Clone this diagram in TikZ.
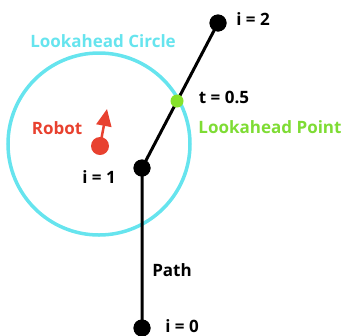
\documentclass[tikz,border=0pt]{standalone}
\usepackage{fontspec}
\setmainfont{Open Sans}[BoldFont={Open Sans Bold}]
\usetikzlibrary{arrows.meta}
\definecolor{cyanc}{HTML}{66E4EE}
\definecolor{redc}{HTML}{E8412F}
\definecolor{greenc}{HTML}{7EDC34}
\definecolor{greendot}{HTML}{86E22A}
\tikzset{
  lbl/.style={font=\bfseries\fontsize{17}{19}\selectfont, inner sep=0pt},
  wpt/.style={circle, fill=black, minimum size=17pt, inner sep=0pt},
  pathline/.style={line width=3pt, black},
}
\begin{document}
\begin{tikzpicture}[x=1pt,y=-1pt]
\useasboundingbox (0,0) rectangle (347,335);
\draw[cyanc, line width=3.5pt] (99,144) circle (91);
\node[wpt] (i0) at (142,328) {};
\node[wpt] (i1) at (142,168) {};
\node[wpt] (i2) at (218,23) {};
\draw[pathline] (i0.center) -- (i1.center) -- (i2.center);
\node[wpt] (i0b) at (142,328) {};
\node[wpt] (i1b) at (142,168) {};
\node[wpt] (i2b) at (218,23) {};
\node[circle, fill=greendot, minimum size=13pt, inner sep=0pt] (la) at (177,101) {};
\node[circle, fill=redc, minimum size=18pt, inner sep=0pt] (robot) at (100,146) {};
\coordinate (tip) at (107,109);
\draw[redc, line width=2.5pt, -{Triangle[length=17pt,width=15pt]}] (robot.center) -- (tip);
\node[lbl] (t2) at (253,19) {i = 2};
\node[lbl, text=cyanc] (tlc) at (103,41) {Lookahead Circle};
\node[lbl] (tt) at (224,97) {t = 0.5};
\node[lbl, text=greenc] (tlp) at (270,127) {Lookahead Point};
\node[lbl, text=redc] (trob) at (57,128) {Robot};
\node[lbl] (t1) at (99,177) {i = 1};
\node[lbl] (tpath) at (172,270) {Path};
\node[lbl] (t0) at (182,326) {i = 0};
\end{tikzpicture}
\end{document}
